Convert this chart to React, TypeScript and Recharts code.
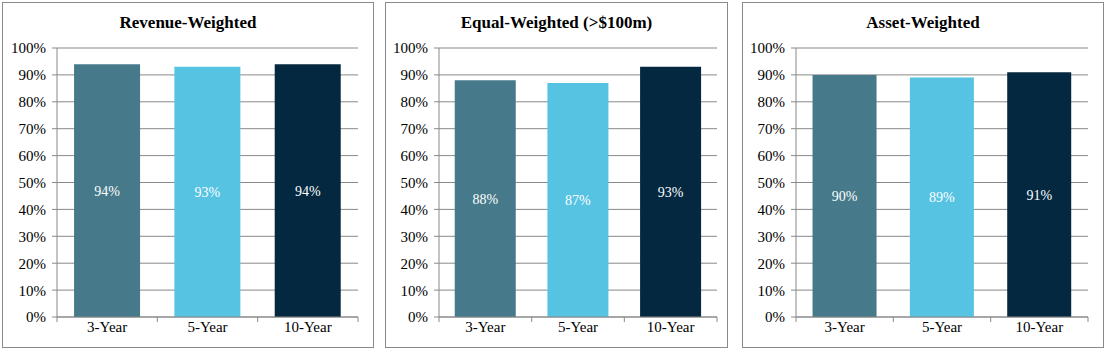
import React from 'react';
import { BarChart, Bar, XAxis, YAxis, CartesianGrid, Cell, LabelList } from 'recharts';

const categories = ['3-Year', '5-Year', '10-Year'];
const revenueWeighted = [94, 93, 94];
const equalWeighted = [88, 87, 93];
const assetWeighted = [90, 89, 91];
const yTicks = [0, 10, 20, 30, 40, 50, 60, 70, 80, 90, 100];
const barColors = ['#467a8a', '#56c3e3', '#03283f'];

const FONT = '"Liberation Serif", "Times New Roman", serif';
const GRAY = '#898989';

interface PanelProps {
  title: string;
  values: number[];
  left: number;
  width: number;
  plotLeft: number;
  plotRight: number;
}

const PANEL_TOP = 2;
const PANEL_HEIGHT = 346;
const PLOT_TOP = 48;
const PLOT_BOTTOM = 317;

const renderYTick = (props: any) => {
  const { x, y, payload } = props;
  return (
    <text x={x} y={y} dy="0.36em" textAnchor="end" fontSize={15} fontFamily={FONT} style={{ fontFamily: FONT }} fill="#000">
      {`${payload.value}%`}
    </text>
  );
};

const renderValueLabel = (props: any) => {
  const { x, y, width, height, value } = props;
  return (
    <text
      x={x + width / 2}
      y={y + height / 2}
      dy="0.36em"
      textAnchor="middle"
      fontSize={14}
      fontFamily={FONT}
      style={{ fontFamily: FONT }}
      fill="#fff"
    >
      {`${value}%`}
    </text>
  );
};

const Panel: React.FC<PanelProps> = ({ title, values, left, width, plotLeft, plotRight }) => {
  const data = categories.map((name, i) => ({ name, value: values[i] }));
  const chartW = width - 2;
  const chartH = PANEL_HEIGHT - 2;
  const yAxisW = plotLeft - (left + 1);
  const rightMargin = left + width - 1 - plotRight;
  const topMargin = PLOT_TOP - (PANEL_TOP + 1);
  const xAxisH = PANEL_TOP + 1 + chartH - PLOT_BOTTOM;
  const halfBand = (plotRight - plotLeft) / categories.length / 2;

  // excel style: tick marks sit between categories
  const renderXTick = (props: any) => {
    const { x, y, payload, index } = props;
    return (
      <g>
        <line x1={x - halfBand} y1={y} x2={x - halfBand} y2={y + 5} stroke={GRAY} />
        {index === categories.length - 1 && (
          <line x1={x + halfBand} y1={y} x2={x + halfBand} y2={y + 5} stroke={GRAY} />
        )}
        <text x={x} y={y + 15} textAnchor="middle" fontSize={15} fontFamily={FONT} style={{ fontFamily: FONT }} fill="#000">
          {payload.value}
        </text>
      </g>
    );
  };

  return (
    <div
      style={{
        position: 'absolute',
        left,
        top: PANEL_TOP,
        width: width - 2,
        height: PANEL_HEIGHT - 2,
        border: `1px solid ${GRAY}`,
        background: '#fff',
        fontFamily: FONT,
      }}
    >
      <BarChart
        width={chartW}
        height={chartH}
        data={data}
        margin={{ top: topMargin, right: rightMargin, left: 0, bottom: 0 }}
        barCategoryGap="17%"
      >
        <CartesianGrid vertical={false} stroke={GRAY} />
        <XAxis
          dataKey="name"
          height={xAxisH}
          axisLine={{ stroke: GRAY }}
          tickLine={false}
          tickSize={0}
          tickMargin={0}
          tick={renderXTick}
          interval={0}
        />
        <YAxis
          width={yAxisW}
          domain={[0, 100]}
          ticks={yTicks}
          interval={0}
          axisLine={{ stroke: GRAY }}
          tickLine={{ stroke: GRAY }}
          tickSize={5}
          tickMargin={6}
          tick={renderYTick}
        />
        <Bar dataKey="value" isAnimationActive={false}>
          {data.map((d, i) => (
            <Cell key={d.name} fill={barColors[i]} />
          ))}
          <LabelList dataKey="value" content={renderValueLabel} />
        </Bar>
      </BarChart>
      <div
        style={{
          position: 'absolute',
          left: 0,
          top: 10,
          width: '100%',
          textAlign: 'center',
          fontFamily: FONT,
          fontWeight: 'bold',
          fontSize: 17,
          lineHeight: '20px',
          color: '#000',
        }}
      >
        {title}
      </div>
    </div>
  );
};

const App: React.FC = () => {
  return (
    <div style={{ position: 'absolute', left: 0, top: 0, width: 1107, height: 353, background: '#fff', fontFamily: FONT }}>
      <Panel title="Revenue-Weighted" values={revenueWeighted} left={2} width={372} plotLeft={57} plotRight={358} />
      <Panel title="Equal-Weighted (>$100m)" values={equalWeighted} left={385} width={343} plotLeft={439} plotRight={717} />
      <Panel title="Asset-Weighted" values={assetWeighted} left={742} width={362} plotLeft={796} plotRight={1088} />
    </div>
  );
};

export default App;
